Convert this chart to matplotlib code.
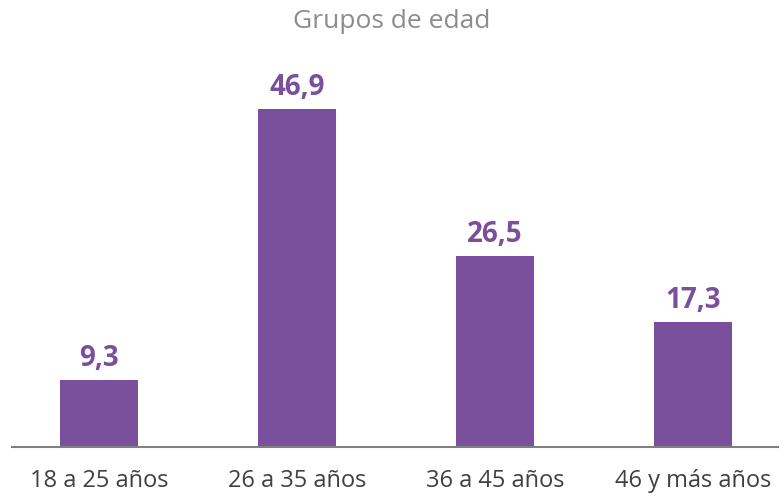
import matplotlib.pyplot as plt

# datos
categorias = ["18 a 25 años", "26 a 35 años", "36 a 45 años", "46 y más años"]
valores = [9.3, 46.9, 26.5, 17.3]
etiquetas = ["9,3", "46,9", "26,5", "17,3"]

morado = "#7a4f9c"
gris = "#808080"

plt.rcParams['font.family'] = ['Open Sans', 'DejaVu Sans']

fig = plt.figure(figsize=(7.84, 4.98), dpi=100)
ax = fig.add_axes([12 / 784, 51 / 498, 766 / 784, 387 / 498])

x = list(range(len(categorias)))
ax.bar(x, valores, width=0.394, color=morado, zorder=2)

for xi, v, lab in zip(x, valores, etiquetas):
    ax.text(xi, v + 3.0, lab, ha='center', va='center', fontsize=20,
            fontweight='bold', color=morado)

ax.set_xlim(-0.439, 3.429)
ax.set_ylim(0, 53.7)
ax.set_xticks(x)
ax.set_xticklabels(categorias, fontsize=17, color="#404040")
ax.tick_params(axis='x', length=0, pad=16)
ax.set_yticks([])

for s in ['top', 'right', 'left']:
    ax.spines[s].set_visible(False)
ax.spines['bottom'].set_color(gris)
ax.spines['bottom'].set_linewidth(1.5)

fig.text(0.5, 1 - 22 / 498, "Grupos de edad", ha='center', va='center',
         fontsize=19, color="#8c8c8c")

fig.savefig("out.png", dpi=100)
